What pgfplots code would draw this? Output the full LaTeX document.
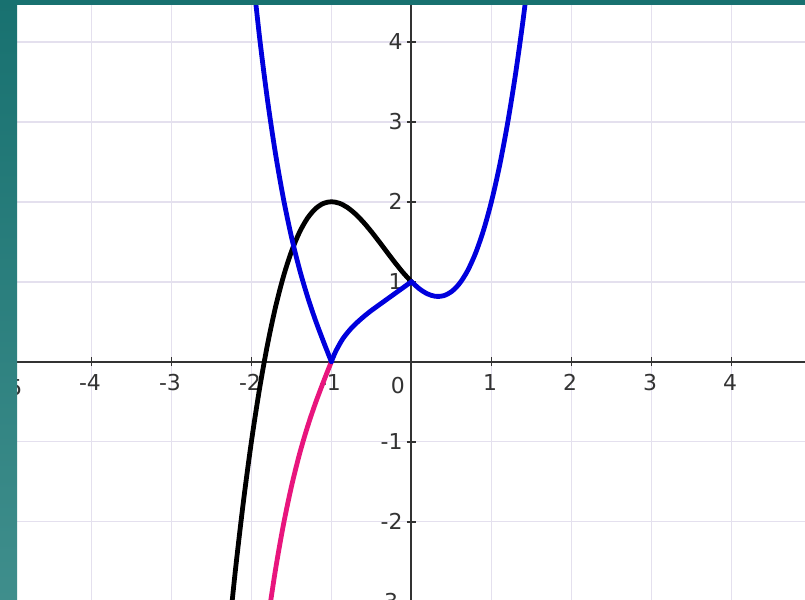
\documentclass[border=0pt]{standalone}
\usepackage{pgfplots}
\pgfplotsset{compat=1.18}
\usepackage{fontspec}
\setmainfont{DejaVu Sans}
\definecolor{gridc}{HTML}{E4E0EE}
\definecolor{axc}{HTML}{333333}
\definecolor{cblue}{HTML}{0000DD}
\definecolor{cpink}{HTML}{E8157D}
\definecolor{tealtop}{HTML}{187170}
\definecolor{tealbot}{HTML}{3F8E8C}
% curves are drawn over the axis lines and tick labels
\pgfplotsset{layers/curvesover/.define layer set={axis background,axis grid,axis ticks,axis lines,axis tick labels,pre main,main,axis descriptions,axis foreground}{}}
\tikzset{lbl/.style={font=\fontsize{11}{13}\selectfont, text=axc, inner sep=2bp}}

\begin{document}
\begin{tikzpicture}
\begin{axis}[name=ax, at={(0,0)}, anchor=south west,
  scale only axis, width=394bp, height=297.5bp,
  xmin=-4.93, xmax=4.92, ymin=-2.98, ymax=4.46,
  set layers=curvesover,
  axis lines=middle, axis line style={-, draw=axc, line width=1bp},
  xtick={-4,-3,-2,-1,1,2,3,4}, ytick={-2,-1,1,2,3,4},
  xticklabels={-4,-3,-2,-1,1,2,3,4}, yticklabels={-2,-1,1,2,3,4},
  tick align=center, major tick length=4.5bp,
  tick style={draw=axc, line width=0.9bp},
  grid=major, major grid style={draw=gridc, line width=0.8bp},
  ticklabel style={lbl},
  xticklabel style={yshift=-2bp, xshift=-0.7bp},
  axis background/.style={fill=white},
  every axis plot/.append style={line width=2.4bp, line join=round, line cap=round},
]
% black: y = x^3 + x^2 - x + 1, read off for x <= 0
\addplot[black, smooth] coordinates {
 (-2.3,-3.577) (-2.2,-2.608) (-2.1,-1.751) (-2.0,-1.0) (-1.9,-0.349)
 (-1.8,0.208) (-1.7,0.677) (-1.6,1.064) (-1.5,1.375) (-1.4,1.616)
 (-1.3,1.793) (-1.2,1.912) (-1.1,1.979) (-1.0,2.0) (-0.9,1.981)
 (-0.8,1.928) (-0.7,1.847) (-0.6,1.744) (-0.5,1.625) (-0.4,1.496)
 (-0.3,1.363) (-0.2,1.232) (-0.1,1.109) (0,1.0)};
% pink: lower branch left of x = -1
\addplot[cpink, smooth] coordinates {
 (-1.0,0) (-1.05,-0.125) (-1.1,-0.253) (-1.2,-0.52) (-1.3,-0.818)
 (-1.4,-1.16) (-1.5,-1.563) (-1.6,-2.04) (-1.7,-2.608) (-1.8,-3.28) (-1.9,-4.07)};
% blue: left branch, middle arc, right branch
\addplot[cblue, smooth] coordinates {
 (-2.0,5.0) (-1.9,4.073) (-1.8,3.28) (-1.7,2.608) (-1.6,2.04) (-1.5,1.563)
 (-1.4,1.16) (-1.3,0.818) (-1.2,0.52) (-1.1,0.253) (-1.05,0.125) (-1.0,0)};
\addplot[cblue, smooth] coordinates {
 (-1.0,0) (-0.97,0.075) (-0.9375,0.146) (-0.855,0.29) (-0.75,0.42)
 (-0.646,0.52) (-0.52,0.625) (-0.355,0.745) (-0.188,0.865) (0,1.0)};
\addplot[cblue, smooth] coordinates {
 (0,1.0) (0.1,0.911) (0.2,0.848) (0.3,0.817) (0.4,0.824) (0.5,0.875)
 (0.6,0.976) (0.7,1.133) (0.8,1.352) (0.9,1.639) (1.0,2.0) (1.1,2.441)
 (1.2,2.968) (1.3,3.587) (1.4,4.304) (1.5,5.125)};
\coordinate (o) at (axis cs:0,0);
\coordinate (m5) at (axis cs:-5,0);
\coordinate (m3) at (axis cs:0,-3);
\end{axis}
\node[lbl, anchor=north] at ([yshift=-6.5bp]m5) {-5};
\node[lbl, anchor=north, xshift=-6.8bp] at ([yshift=-5.8bp]o) {0};
\node[lbl, anchor=east] at ([xshift=-4.5bp]m3) {-3};
% teal frame on the left and top
\shade[top color=tealtop, bottom color=tealbot] (-8.5bp,0) rectangle (0,300bp);
\fill[tealtop] (-8.5bp,297.5bp) rectangle (394bp,300bp);
\pgfresetboundingbox
\path (-8.5bp,0) rectangle (394bp,300bp);
\end{tikzpicture}
\end{document}
